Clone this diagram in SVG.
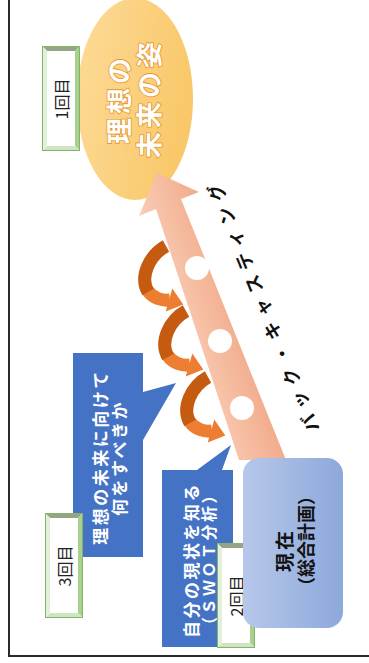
<svg xmlns="http://www.w3.org/2000/svg" xmlns:xlink="http://www.w3.org/1999/xlink" width="369" height="663" viewBox="0 0 369 663">
<style>
.jp{font-family:"Noto Sans CJK JP","Noto Sans CJK SC",sans-serif}
.vt{text-anchor:middle;dominant-baseline:central}
.wb{fill:#ffffff;font-weight:bold}
.ideal{fill:#ffffff;font-weight:bold;stroke:#E8962E;stroke-width:1.6;paint-order:stroke;font-size:26px;letter-spacing:4px}
.lbl{fill:#222222;font-size:16px}
.cur{fill:#111111;font-weight:bold}
.callout{fill:#4472C4}
.frame{stroke:#2b2b2b;stroke-width:2;fill:none}
</style>
<defs>
<linearGradient id="gEll" x1="0" y1="0" x2="1" y2="0.3">
<stop offset="0" stop-color="#FDDB98"/>
<stop offset="1" stop-color="#F9C86A"/>
</linearGradient>
<linearGradient id="gArr" gradientUnits="userSpaceOnUse" x1="170" y1="320" x2="245" y2="295">
<stop offset="0" stop-color="#F9D0B8"/>
<stop offset="1" stop-color="#F1A483"/>
</linearGradient>
<linearGradient id="gCur" x1="0" y1="0" x2="1" y2="0">
<stop offset="0" stop-color="#B6C8EA"/>
<stop offset="1" stop-color="#8DA8DB"/>
</linearGradient>
<g id="bevel">
<rect x="0" y="0" width="38" height="105" fill="#ffffff"/>
<polygon points="0,0 38,0 33,5 5,5" fill="#93A586"/>
<polygon points="38,0 38,105 33,100 33,5" fill="#A9D18E"/>
<polygon points="0,105 38,105 33,100 5,100" fill="#CFE5C0"/>
<polygon points="0,0 5,5 5,100 0,105" fill="#E2F0D9"/>
<rect x="0.5" y="0.5" width="37" height="104" fill="none" stroke="#86B36A" stroke-width="1"/>
</g>
<g id="spiral">
<path d="M -18 45 C -13 52 -4 55 4 54" fill="none" stroke="#ED7D31" stroke-width="13"/>
<polygon points="-0.3,65.5 6.3,42.5 17.3,58.5" fill="#ED7D31"/>
<path d="M 0 0 C -16 9 -27 30 -18 46" fill="none" stroke="#C55A11" stroke-width="13"/>
</g>
</defs>

<rect x="0" y="0" width="369" height="663" fill="#ffffff"/>
<path class="frame" d="M9 0 V656 H369"/>

<g id="ideal-future">
<ellipse cx="135" cy="99" rx="58" ry="101" fill="url(#gEll)"/>
<text class="jp vt ideal" transform="translate(117,99) rotate(-90)">理想の</text>
<text class="jp vt ideal" transform="translate(147,98) rotate(-90)">未来の姿</text>
</g>

<g id="step1">
<use xlink:href="#bevel" href="#bevel" transform="translate(42,46)"/>
<text class="jp vt lbl" transform="translate(61,99) rotate(-90)">1回目</text>
</g>

<g id="connectors">
<g id="spirals">
<use xlink:href="#spiral" href="#spiral" transform="translate(166,246)"/>
<use xlink:href="#spiral" href="#spiral" transform="translate(186,311)"/>
<use xlink:href="#spiral" href="#spiral" transform="translate(208,377)"/>
</g>
<g id="backcasting-arrow">
<polygon points="157,173 199,192 181,199 286,460 239,460 156,209 139,216" fill="url(#gArr)"/>
<circle cx="197" cy="268" r="12" fill="#ffffff"/>
<circle cx="220" cy="341" r="12" fill="#ffffff"/>
<circle cx="242" cy="408" r="12" fill="#ffffff"/>
</g>
<text class="jp vt" transform="translate(261,305) rotate(-112)" font-size="18" font-weight="bold" letter-spacing="7" fill="#111111">バック・キャスティング</text>
</g>

<g id="callout-what-to-do">
<path class="callout" d="M73 353 H143 V392 L176 383 L143 440 V557 H73 Z"/>
<text class="jp vt wb" font-size="17" letter-spacing="2.5" transform="translate(99,457) rotate(-90)">理想の未来に向けて</text>
<text class="jp vt wb" font-size="17" letter-spacing="2.5" transform="translate(118,458) rotate(-90)">何をすべきか</text>
</g>

<g id="step3">
<use xlink:href="#bevel" href="#bevel" transform="translate(45,513)"/>
<text class="jp vt lbl" transform="translate(64,566) rotate(-90)">3回目</text>
</g>

<g id="callout-swot">
<path class="callout" d="M162 470 H197 L231 445 L222 470 H233 V647 H162 Z"/>
<text class="jp vt wb" font-size="17" letter-spacing="2.5" transform="translate(190,560) rotate(-90)">自分の現状を知る</text>
<text class="jp vt wb" font-size="16" letter-spacing="2.5" transform="translate(208,559) rotate(-90)">（ＳＷＯＴ分析）</text>
</g>

<g id="step2">
<use xlink:href="#bevel" href="#bevel" transform="translate(217,543)"/>
<text class="jp vt lbl" transform="translate(236,596) rotate(-90)">2回目</text>
</g>

<g id="current">
<rect x="243" y="458" width="100" height="170" rx="16" ry="16" fill="url(#gCur)"/>
<text class="jp vt cur" font-size="19" letter-spacing="3" transform="translate(283,550) rotate(-90)">現在</text>
<text class="jp vt cur" font-size="18" transform="translate(305,541) rotate(-90)">（総合計画）</text>
</g>
</svg>
